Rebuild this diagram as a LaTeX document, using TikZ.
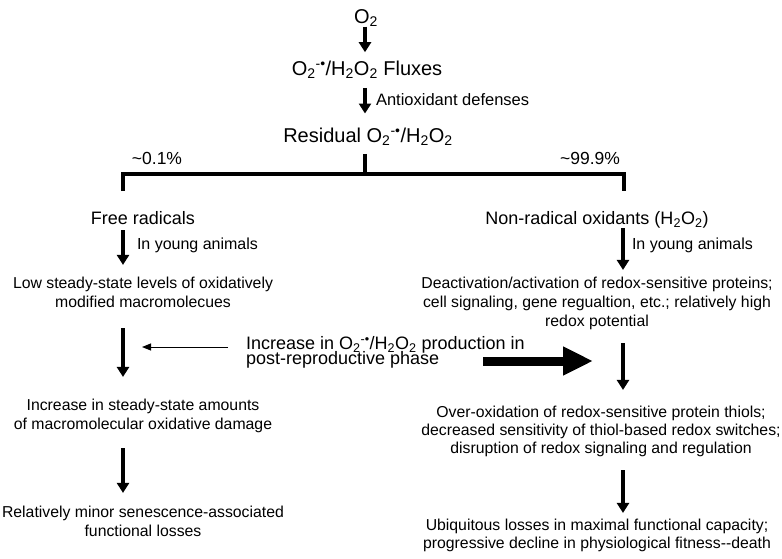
\documentclass[tikz,border=0pt]{standalone}
\usepackage{fontspec}
\setmainfont{Liberation Sans}
\usetikzlibrary{arrows.meta, calc, positioning}

\newcommand{\oxy}{O\textsubscript{2}}
\newcommand{\sox}{O\textsubscript{2}\textsuperscript{-•}}
\newcommand{\hoo}{H\textsubscript{2}O\textsubscript{2}}
\newcommand{\tightlines}{\lineskiplimit=-100pt\relax}

\begin{document}
\begin{tikzpicture}[
	x=1pt, y=-1pt,
	every node/.style = {inner sep=0pt, outer sep=0pt},
	toptext/.style = {font=\fontsize{20}{24}\selectfont},
	headtext/.style = {font=\fontsize{18}{22}\selectfont},
	note/.style = {font=\fontsize{16}{19}\selectfont, anchor=west},
	body/.style = {align=center, font=\fontsize{15.8}{19}\selectfont},
	arrow/.style = {-{Triangle[width=12pt, length=10pt]}, line width=3.6pt},
	thin arrow/.style = {-{Triangle[width=7pt, length=9pt]}, line width=1pt},
	fat arrow/.style = {-{Triangle[width=27pt, length=30pt]}, line width=9pt},
	bracket/.style = {line width=3.5pt},
	trim/.style 2 args = {shorten <=#1, shorten >=#2}
]
\useasboundingbox (0,0) rectangle (782,558);

\coordinate (fork) at (365,174);
\coordinate (lcol) at (123,0);
\coordinate (rcol) at (623,0);
\coordinate (lleg) at (123,191);
\coordinate (rleg) at (624,191);

\node[toptext] (o2) at (366,18) {\oxy};
\node[toptext] (flux) at (367,70) {\sox/\hoo{} Fluxes};
\node[note, font=\fontsize{16.5}{19}\selectfont] (antiox) at (376,100) {Antioxidant defenses};
\node[toptext] (resid) at (368,137) {Residual \sox/\hoo};

\node[font=\fontsize{17.5}{20}\selectfont] (low pct) at (157,158) {\textasciitilde0.1\%};
\node[font=\fontsize{17.5}{20}\selectfont] (high pct) at (590,158) {\textasciitilde99.9\%};

\draw[bracket] (lleg) |- (fork) -| (rleg);
\draw[bracket, shorten <=8pt] (resid.south -| fork) -- (fork);

\node[headtext] (frad) at (143,218) {Free radicals};
\node[note] (young l) at (137,245) {In young animals};
\node[body] (lowss) at (143,292.4) {Low steady-state levels of oxidatively\\modified macromolecues};
\node[body] (incss) at (143,416) {Increase in steady-state amounts\\of macromolecular oxidative damage};
\node[body] (minor) at (143,521.4) {Relatively minor senescence-associated\\functional losses};

\node[headtext] (nonrad) at (597,220) {Non-radical oxidants (\hoo)};
\node[note] (young r) at (632,245) {In young animals};
\node[body] (deact) at (597,303.5) {Deactivation/activation of redox-sensitive proteins;\\cell signaling, gene regualtion, etc.; relatively high\\redox potential};
\node[body, font=\fontsize{15.8}{18}\selectfont] (overox) at (601,431.5) {Over-oxidation of redox-sensitive protein thiols;\\decreased sensitivity of thiol-based redox switches;\\disruption of redox signaling and regulation};
\node[body, font=\fontsize{15.8}{18}\selectfont] (ubiq) at (597,535.5) {Ubiquitous losses in maximal functional capacity;\\progressive decline in physiological fitness-{}-death};

\node[anchor=west, align=left, font=\fontsize{18}{15.5}\selectfont\tightlines] (incrmid) at (246,352.5) {Increase in \sox/\hoo{} production in\\post-reproductive phase};

\draw[arrow, trim={0pt}{9pt}] (o2.south -| fork) -- (flux.north -| fork);
\draw[arrow, trim={9pt}{14.7pt}] (flux.south -| fork) -- (resid.north -| fork);

\draw[arrow, trim={5.5pt}{12.2pt}] (frad.south -| lcol) -- (lowss.north -| lcol);
\draw[arrow, trim={20.5pt}{22.2pt}] (lowss.south -| lcol) -- (incss.north -| lcol);
\draw[arrow, trim={15.2pt}{13.2pt}] (incss.south -| lcol) -- (minor.north -| lcol);

\draw[arrow, trim={0pt}{7.2pt}] (nonrad.south -| rcol) -- (deact.north -| rcol);
\draw[arrow, trim={13.2pt}{16.2pt}] (deact.south -| rcol) -- (overox.north -| rcol);
\draw[arrow, trim={13.2pt}{6.2pt}] (overox.south -| rcol) -- (ubiq.north -| rcol);

\draw[thin arrow, trim={18pt}{19pt}] ([yshift=5.5pt]incrmid.west) -- ([yshift=5.5pt]incrmid.west -| lcol);
\draw[fat arrow, shorten >=30pt] ([xshift=237pt, yshift=-8.5pt]incrmid.west) -- ([yshift=-8.5pt]incrmid.west -| rcol);

\end{tikzpicture}
\end{document}
